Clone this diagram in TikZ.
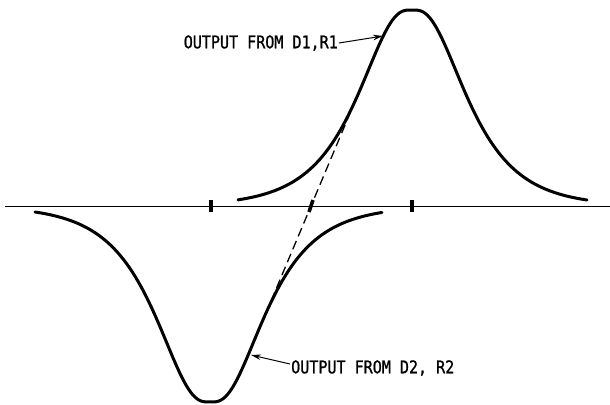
\documentclass[tikz,border=0pt]{standalone}
\usepackage{fontspec}
\newfontfamily\lettering[FakeStretch=0.86,FakeBold=1]{DejaVu Sans Mono}
\usetikzlibrary{arrows.meta}
\begin{document}
\begin{tikzpicture}[x=1pt,y=-1pt,
  curve/.style={line width=3pt, line cap=round},
  axistick/.style={line width=3.5pt},
  lbl/.style={font=\lettering\fontsize{17.5}{20}\selectfont, inner sep=1pt},
  pointer/.style={line width=1pt, -{Stealth[length=10pt,width=5.5pt]}}]
\useasboundingbox (0,0) rectangle (610,404);
% base line and marks
\draw[line width=0.9pt] (5,206) -- (610,206);
\draw[axistick] (211,200) -- (211,212);
\draw[axistick] (309,212) -- (313,200);
\draw[axistick] (412,200) -- (412,212);
% the two pulses
\draw[curve] plot[domain=-174:175, samples=150] ({412+\x}, {206-196/cosh((veclen(\x,8)-8)/40)});
\draw[curve] plot[domain=-175:172, samples=150] ({210+\x}, {206+196/cosh((veclen(\x,8)-8)/40)});
% dashed line between the flanks
\coordinate (tu) at ({412-56}, {206-196/cosh((veclen(56,8)-8)/40)});
\coordinate (tl) at ({210+56}, {206+196/cosh((veclen(56,8)-8)/40)});
\draw[line width=1.3pt, dash pattern=on 9pt off 5pt] (tu) -- (tl);
% labels
\node[lbl, anchor=east] (lblup) at (339,43) {OUTPUT FROM D1,R1};
\coordinate (ptup) at (383,36);
\draw[pointer] (lblup.east) -- (ptup);
\node[lbl, anchor=west] (lbldn) at (290,368) {OUTPUT FROM D2, R2};
\coordinate (ptdn) at (251,355);
\draw[pointer] ([yshift=4pt]lbldn.west) -- (ptdn);
\end{tikzpicture}
\end{document}
